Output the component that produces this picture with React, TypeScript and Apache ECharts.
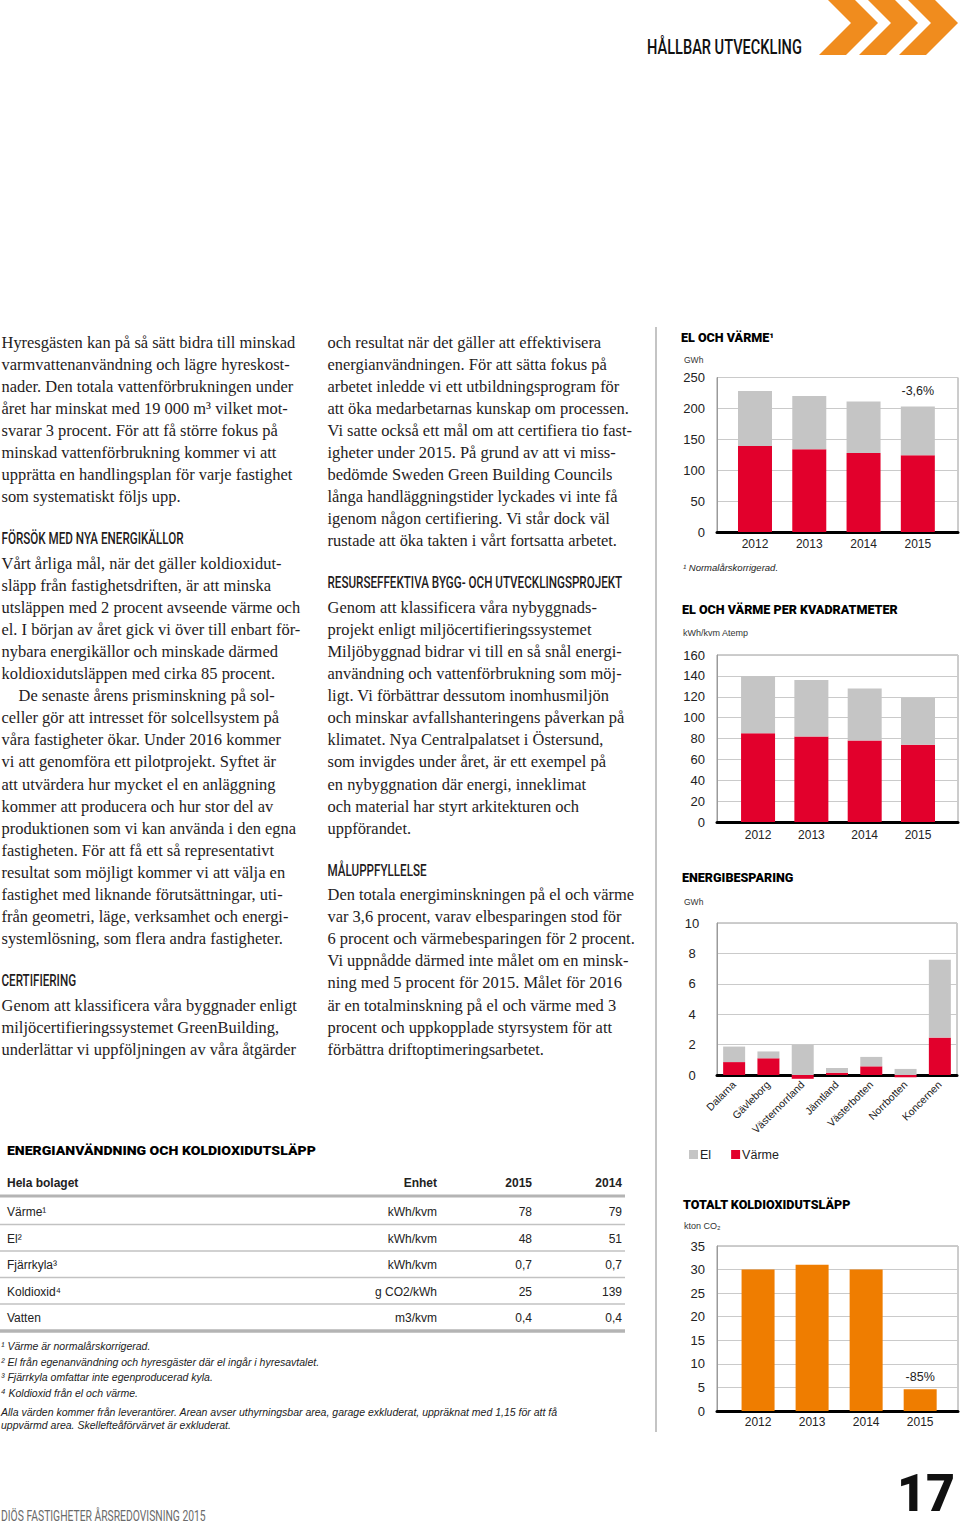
import React, { useEffect, useRef } from 'react';
import * as echarts from 'echarts';

// ---------- DATA ----------
const yearNums = [2012, 2013, 2014, 2015];
const elVarme_Varme = [139, 134, 128, 124];
const elVarme_El = [89, 86, 83, 79];
const elVarmeChange = '-3,6%';

const perKvm_Varme = [85, 82, 78, 74];
const perKvm_El = [55, 54, 50, 45];

const regions = ['Dalarna', 'Gävleborg', 'Västernorrland', 'Jämtland', 'Västerbotten', 'Norrbotten', 'Koncernen'];
const besparing_Varme = [0.85, 1.1, -0.25, 0.15, 0.57, -0.15, 2.46];
const besparing_El = [1.02, 0.45, 1.98, 0.31, 0.62, 0.4, 5.12];

const co2 = [30, 31, 30, 4.6];
const co2Change = '-85%';

const tableTitle = 'ENERGIANVÄNDNING OCH KOLDIOXIDUTSLÄPP';
const tableHeader = ['Hela bolaget', 'Enhet', '2015', '2014'];
const tableLabels = ['Värme¹', 'El²', 'Fjärrkyla³', 'Koldioxid⁴', 'Vatten'];
const tableUnits = ['kWh/kvm', 'kWh/kvm', 'kWh/kvm', 'g CO2/kWh', 'm3/kvm'];
const table2015 = ['78', '48', '0,7', '25', '0,4'];
const table2014 = ['79', '51', '0,7', '139', '0,4'];
const tableNotes = [
  '¹ Värme är normalårskorrigerad.',
  '² El från egenanvändning och hyresgäster där el ingår i hyresavtalet.',
  '³ Fjärrkyla omfattar inte egenproducerad kyla.',
  '⁴ Koldioxid från el och värme.',
];
const tableRemark = [
  'Alla värden kommer från leverantörer. Arean avser uthyrningsbar area, garage exkluderat, uppräknat med 1,15 för att få',
  'uppvärmd area. Skellefteåförvärvet är exkluderat.',
];

const leftColumn = [
  'Hyresgästen kan på så sätt bidra till minskad',
  'varmvattenanvändning och lägre hyreskost-',
  'nader. Den totala vattenförbrukningen under',
  'året har minskat med 19 000 m³ vilket mot-',
  'svarar 3 procent. För att få större fokus på',
  'minskad vattenförbrukning kommer vi att',
  'upprätta en handlingsplan för varje fastighet',
  'som systematiskt följs upp.',
  '',
  '#FÖRSÖK MED NYA ENERGIKÄLLOR',
  'Vårt årliga mål, när det gäller koldioxidut-',
  'släpp från fastighetsdriften, är att minska',
  'utsläppen med 2 procent avseende värme och',
  'el. I början av året gick vi över till enbart för-',
  'nybara energikällor och minskade därmed',
  'koldioxidutsläppen med cirka 85 procent.',
  '>De senaste årens prisminskning på sol-',
  'celler gör att intresset för solcellsystem på',
  'våra fastigheter ökar. Under 2016 kommer',
  'vi att genomföra ett pilotprojekt. Syftet är',
  'att utvärdera hur mycket el en anläggning',
  'kommer att producera och hur stor del av',
  'produktionen som vi kan använda i den egna',
  'fastigheten. För att få ett så representativt',
  'resultat som möjligt kommer vi att välja en',
  'fastighet med liknande förutsättningar, uti-',
  'från geometri, läge, verksamhet och energi-',
  'systemlösning, som flera andra fastigheter.',
  '',
  '#CERTIFIERING',
  'Genom att klassificera våra byggnader enligt',
  'miljöcertifieringssystemet GreenBuilding,',
  'underlättar vi uppföljningen av våra åtgärder',
];

const middleColumn = [
  'och resultat när det gäller att effektivisera',
  'energianvändningen. För att sätta fokus på',
  'arbetet inledde vi ett utbildningsprogram för',
  'att öka medarbetarnas kunskap om processen.',
  'Vi satte också ett mål om att certifiera tio fast-',
  'igheter under 2015. På grund av att vi miss-',
  'bedömde Sweden Green Building Councils',
  'långa handläggningstider lyckades vi inte få',
  'igenom någon certifiering. Vi står dock väl',
  'rustade att öka takten i vårt fortsatta arbetet.',
  '',
  '#RESURSEFFEKTIVA BYGG- OCH UTVECKLINGSPROJEKT',
  'Genom att klassificera våra nybyggnads-',
  'projekt enligt miljöcertifieringssystemet',
  'Miljöbyggnad bidrar vi till en så snål energi-',
  'användning och vattenförbrukning som möj-',
  'ligt. Vi förbättrar dessutom inomhusmiljön',
  'och minskar avfallshanteringens påverkan på',
  'klimatet. Nya Centralpalatset i Östersund,',
  'som invigdes under året, är ett exempel på',
  'en nybyggnation där energi, inneklimat',
  'och material har styrt arkitekturen och',
  'uppförandet.',
  '',
  '#MÅLUPPFYLLELSE',
  'Den totala energiminskningen på el och värme',
  'var 3,6 procent, varav elbesparingen stod för',
  '6 procent och värmebesparingen för 2 procent.',
  'Vi uppnådde därmed inte målet om en minsk-',
  'ning med 5 procent för 2015. Målet för 2016',
  'är en totalminskning på el och värme med 3',
  'procent och uppkopplade styrsystem för att',
  'förbättra driftoptimeringsarbetet.',
];

// ---------- STYLE ----------
const SANS = '"Liberation Sans", Arial, Helvetica, sans-serif';
const SERIF = '"Liberation Serif", "Times New Roman", serif';
const COND = 'Roboto, "Noto Sans", sans-serif';
const RED = '#E2002C';
const GRAY = '#C5C5C5';
const ORANGE = '#EF7D00';
const CHEVRON = '#F08C1E';
const INK = '#1f1c1d';

let measureCtx: CanvasRenderingContext2D | null = null;
function measure(text: string, size: number, family: string, weight = 'normal', style = 'normal') {
  if (!measureCtx) measureCtx = document.createElement('canvas').getContext('2d');
  measureCtx!.font = `${style} ${weight} ${size}px ${family}`;
  return measureCtx!.measureText(text).width;
}

type TOpt = {
  size: number; family?: string; weight?: string; style?: string; color?: string;
  align?: string; scaleX?: number;
};
function T(x: number, y: number, text: string, o: TOpt) {
  return {
    type: 'text', x, y, scaleX: o.scaleX ?? 1, silent: true,
    style: {
      text, fontSize: o.size, fontFamily: o.family ?? SANS, fontWeight: o.weight ?? 'normal',
      fontStyle: o.style ?? 'normal', fill: o.color ?? INK, align: o.align ?? 'left',
      verticalAlign: 'middle',
    },
  };
}
function L(x1: number, y1: number, x2: number, y2: number, color: string, w: number) {
  return { type: 'line', silent: true, shape: { x1, y1, x2, y2 }, style: { stroke: color, lineWidth: w } };
}

function buildGraphics() {
  const g: any[] = [];
  // chevrons
  [878, 918, 958].forEach((t) => {
    const w = 27;
    g.push({
      type: 'polygon', silent: true,
      shape: { points: [[t - 32 - w, -9], [t - 32, -9], [t, 23], [t - 32, 55], [t - 32 - w, 55], [t - w, 23]] },
      style: { fill: CHEVRON },
    });
  });
  // top header
  const hdr = 'HÅLLBAR UTVECKLING';
  g.push(T(647, 47.5, hdr, { size: 20, family: COND, weight: '500', color: '#111', scaleX: 155 / measure(hdr, 20, COND, '500') }));

  // body columns
  const bodySize = 17;
  const bodyScale = 294 / measure(leftColumn[0], bodySize, SERIF);
  const headSize = 17;
  const headRef = 'RESURSEFFEKTIVA BYGG- OCH UTVECKLINGSPROJEKT';
  const headScale = 295 / measure(headRef, headSize, COND, '500');
  const col = (lines: string[], x: number) => {
    lines.forEach((raw, i) => {
      if (!raw) return;
      const y = 342 + i * 22.1;
      if (raw.startsWith('#')) {
        g.push(T(x, y - 2.5, raw.slice(1), { size: headSize, family: COND, weight: '500', color: INK, scaleX: headScale }));
      } else if (raw.startsWith('>')) {
        g.push(T(x + 17, y, raw.slice(1), { size: bodySize, family: SERIF, color: INK, scaleX: bodyScale }));
      } else {
        g.push(T(x, y, raw, { size: bodySize, family: SERIF, color: INK, scaleX: bodyScale }));
      }
    });
  };
  col(leftColumn, 1.5);
  col(middleColumn, 327.5);

  // vertical rule
  g.push(L(656, 327, 656, 1432, '#c4c4c4', 2));

  // chart titles (heavy, tightly set)
  const titleSize = 12.5;
  const TF = COND;
  const TW = '900';
  const titleScale = 216 / measure('EL OCH VÄRME PER KVADRATMETER', titleSize, TF, TW);
  const title = (x: number, y: number, s: string) =>
    g.push(T(x, y, s, { size: titleSize, family: TF, weight: TW, color: '#000', scaleX: titleScale }));
  title(681, 337.5, 'EL OCH VÄRME¹');
  title(682, 609.5, 'EL OCH VÄRME PER KVADRATMETER');
  title(682, 878, 'ENERGIBESPARING');
  title(683, 1204.5, 'TOTALT KOLDIOXIDUTSLÄPP');

  g.push(T(684, 360, 'GWh', { size: 8.5, color: '#333' }));
  g.push(T(683, 567, '¹ Normalårskorrigerad.', { size: 9.5, style: 'italic', color: '#222' }));
  g.push(T(683, 633, 'kWh/kvm Atemp', { size: 9, color: '#333' }));
  g.push(T(684, 902, 'GWh', { size: 8.5, color: '#333' }));
  g.push(T(684, 1226, 'kton CO₂', { size: 9, color: '#333' }));

  // table
  g.push(T(7, 1151, tableTitle, { size: titleSize, family: TF, weight: TW, color: '#000', scaleX: 309 / measure(tableTitle, titleSize, TF, TW) }));
  const colX = [7, 437, 532, 622];
  const colAlign = ['left', 'right', 'right', 'right'];
  tableHeader.forEach((h, i) => g.push(T(colX[i], 1183, h, { size: 12, weight: 'bold', color: '#222', align: colAlign[i] })));
  g.push(L(0, 1196, 625, 1196, '#b4b4b4', 3));
  tableLabels.forEach((lab, r) => {
    const y = 1212 + r * 26.5;
    g.push(T(colX[0], y, lab, { size: 12, color: '#222' }));
    g.push(T(colX[1], y, tableUnits[r], { size: 12, color: '#222', align: 'right' }));
    g.push(T(colX[2], y, table2015[r], { size: 12, color: '#222', align: 'right' }));
    g.push(T(colX[3], y, table2014[r], { size: 12, color: '#222', align: 'right' }));
    if (r < tableLabels.length - 1) g.push(L(0, y + 12.5, 625, y + 12.5, '#c2c2c2', 1.5));
  });
  g.push(L(0, 1331, 625, 1331, '#b4b4b4', 3.5));
  tableNotes.forEach((n, i) => g.push(T(1, 1346 + i * 15.7, n, { size: 10.5, style: 'italic', color: '#222' })));
  tableRemark.forEach((n, i) => g.push(T(1, 1411.5 + i * 13.5, n, { size: 10.5, style: 'italic', color: '#222' })));

  // footer
  const foot = 'DIÖS FASTIGHETER ÅRSREDOVISNING 2015';
  g.push(T(1, 1516, foot, { size: 14, family: COND, color: '#6a6a6a', scaleX: 205 / measure(foot, 14, COND) }));
  g.push(T(897, 1493, '17', { size: 52, family: COND, weight: '900', color: '#111', scaleX: 58 / measure('17', 52, COND, '900') }));
  return g;
}

function yearAxis(gridIndex: number, min: number, max: number, margin: number) {
  return {
    type: 'value', gridIndex, min, max,
    splitLine: { show: false }, axisTick: { show: false },
    axisLine: { show: true, onZero: false, lineStyle: { color: '#000', width: 3 } },
    axisLabel: { customValues: yearNums, formatter: (v: number) => String(v), fontSize: 12, color: '#222', margin },
  };
}
function valAxis(gridIndex: number, max: number, interval: number, center = false) {
  return {
    type: 'value', gridIndex, min: 0, max, interval,
    axisLine: { show: true, lineStyle: { color: '#9a9a9a', width: 1 } },
    axisTick: { show: false },
    splitLine: { show: true, lineStyle: { color: '#cacaca', width: 1 } },
    axisLabel: center
      ? { fontSize: 13, color: '#222', margin: 25, align: 'center' }
      : { fontSize: 13, color: '#222', margin: 12 },
  };
}
const gridBox = { show: true, borderColor: '#9a9a9a', borderWidth: 1, backgroundColor: 'transparent' };

// data items are [value, year] with encode {x: 1, y: 0} so that stacking happens on the value dimension
function pairs(vals: number[]) {
  return yearNums.map((y, i) => [vals[i], y]);
}
function withTopLabel(vals: number[], text: string, distance: number) {
  return yearNums.map((y, i) =>
    i === yearNums.length - 1
      ? { value: [vals[i], y], label: { show: true, position: 'top', distance, formatter: text, fontSize: 12.5, color: '#222' } }
      : [vals[i], y]
  );
}
const enc = { x: 1, y: 0 };

function buildOption() {
  return {
    animation: false,
    backgroundColor: '#fff',
    textStyle: { fontFamily: SANS },
    grid: [
      { left: 717, top: 377.5, width: 241, height: 154.5, ...gridBox },
      { left: 717, top: 655, width: 241, height: 167, ...gridBox },
      { left: 717, top: 923, width: 240, height: 152, ...gridBox },
      { left: 717, top: 1246, width: 241, height: 165, ...gridBox },
    ],
    xAxis: [
      yearAxis(0, 2011.30, 2015.74, 6),
      yearAxis(1, 2011.23, 2015.75, 7),
      {
        type: 'category', gridIndex: 2, data: regions,
        axisTick: { show: false },
        axisLine: { show: true, onZero: false, lineStyle: { color: '#000', width: 3 } },
        axisLabel: { rotate: 45, interval: 0, fontSize: 10.5, color: '#222', margin: 8 },
      },
      yearAxis(3, 2011.24, 2015.70, 5),
    ],
    yAxis: [valAxis(0, 250, 50), valAxis(1, 160, 20), valAxis(2, 10, 2, true), valAxis(3, 35, 5)],
    legend: {
      left: 684, top: 1143, data: ['El', 'Värme'], icon: 'rect', itemWidth: 9, itemHeight: 9, itemGap: 20,
      selectedMode: false,
      textStyle: { fontSize: 12.5, color: '#222', padding: [0, 0, 0, -3] },
    },
    series: [
      { type: 'bar', name: 'Värme', xAxisIndex: 0, yAxisIndex: 0, stack: 's1', encode: enc, barWidth: 34, itemStyle: { color: RED }, data: pairs(elVarme_Varme), silent: true },
      { type: 'bar', name: 'El', xAxisIndex: 0, yAxisIndex: 0, stack: 's1', encode: enc, barWidth: 34, itemStyle: { color: GRAY }, data: withTopLabel(elVarme_El, elVarmeChange, 9), silent: true },
      { type: 'bar', name: 'Värme', xAxisIndex: 1, yAxisIndex: 1, stack: 's2', encode: enc, barWidth: 34, itemStyle: { color: RED }, data: pairs(perKvm_Varme), silent: true },
      { type: 'bar', name: 'El', xAxisIndex: 1, yAxisIndex: 1, stack: 's2', encode: enc, barWidth: 34, itemStyle: { color: GRAY }, data: pairs(perKvm_El), silent: true },
      { type: 'bar', name: 'Värme', xAxisIndex: 2, yAxisIndex: 2, stack: 's3', barWidth: 22, clip: false, itemStyle: { color: RED }, data: besparing_Varme, silent: true },
      { type: 'bar', name: 'El', xAxisIndex: 2, yAxisIndex: 2, stack: 's3', barWidth: 22, clip: false, itemStyle: { color: GRAY }, data: besparing_El, silent: true },
      { type: 'bar', name: 'CO2', xAxisIndex: 3, yAxisIndex: 3, encode: enc, barWidth: 33, itemStyle: { color: ORANGE }, data: withTopLabel(co2, co2Change, 6), silent: true },
    ],
    graphic: { elements: buildGraphics() },
  };
}

export default function App() {
  const ref = useRef<HTMLDivElement>(null);
  useEffect(() => {
    const chart = echarts.init(ref.current!, null, { renderer: 'svg' });
    chart.setOption(buildOption() as any);
    return () => chart.dispose();
  }, []);
  return (
    <div
      ref={ref}
      style={{ position: 'absolute', left: 0, top: 0, width: 960, height: 1524, background: '#fff' }}
    />
  );
}
